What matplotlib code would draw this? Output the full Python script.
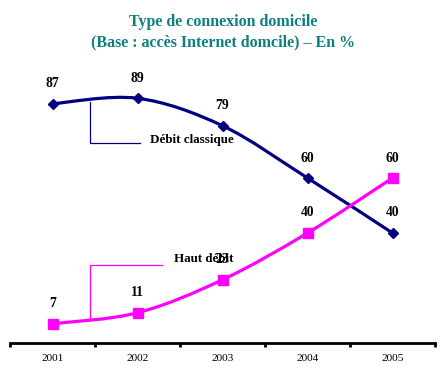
import numpy as np
import matplotlib
matplotlib.use("Agg")
from matplotlib import pyplot as plt
from matplotlib.path import Path
from matplotlib.patches import PathPatch

years = ["2001", "2002", "2003", "2004", "2005"]
debit_classique = [87, 89, 79, 60, 40]
haut_debit = [7, 11, 23, 40, 60]

NAVY = "#000080"
MAGENTA = "#FF00FF"
TEAL = "#0E7F7F"
SERIF = ["Liberation Serif", "DejaVu Serif"]


def smooth_path(xs, ys):
    # Catmull-Rom style Bezier, like a spreadsheet "smoothed line"
    pts = np.column_stack([xs, ys]).astype(float)
    padded = np.vstack([pts[0], pts, pts[-1]])
    verts = [pts[0]]
    codes = [Path.MOVETO]
    for i in range(len(pts) - 1):
        p0, p1, p2, p3 = padded[i], padded[i + 1], padded[i + 2], padded[i + 3]
        verts += [p1 + (p2 - p0) / 6, p2 - (p3 - p1) / 6, p2]
        codes += [Path.CURVE4] * 3
    return Path(verts, codes)


x = np.arange(1, len(years) + 1)

figure = plt.figure(figsize=(4.44, 3.83), dpi=100)
axis = figure.add_axes([10 / 444, 40 / 383, 425 / 444, 275 / 383])
axis.set_xlim(0.5, 5.5)
axis.set_ylim(0, 100)

for values, color, marker, size in [
    (debit_classique, NAVY, "D", 5.5),
    (haut_debit, MAGENTA, "s", 7.5),
]:
    axis.add_patch(PathPatch(smooth_path(x, values), facecolor="none",
                             edgecolor=color, linewidth=2.3, zorder=2))
    axis.plot(x, values, linestyle="none", marker=marker, markersize=size,
              color=color, zorder=3)
    for xi, v in zip(x, values):
        axis.annotate(str(v), (xi, v), xytext=(0, 14.4), textcoords="offset points",
                      ha="center", va="center", fontsize=9.8, fontweight="bold",
                      family=SERIF, zorder=4)

# leader lines for the series names
axis.plot([1.44, 1.44, 2.03], [87.5, 72.7, 72.7], color=NAVY, linewidth=0.9)
axis.text(2.15, 73.8, "Débit classique", ha="left", va="center", fontsize=9.4,
          fontweight="bold", family=SERIF)
axis.plot([1.44, 1.44, 2.29], [8.4, 28.4, 28.4], color=MAGENTA, linewidth=0.9)
axis.text(2.43, 30.5, "Haut débit", ha="left", va="center", fontsize=9.4,
          fontweight="bold", family=SERIF)

for side in ["left", "right", "top"]:
    axis.spines[side].set_visible(False)
axis.spines["bottom"].set_linewidth(2)
axis.set_yticks([])
axis.set_xticks(x)
axis.set_xticklabels(years, family=SERIF, fontsize=8.2)
axis.tick_params(axis="x", which="major", length=0, pad=8)
axis.set_xticks(np.arange(0.5, 6.0, 1.0), minor=True)
axis.tick_params(axis="x", which="minor", length=3, width=2, direction="out")

figure.text(0.502, 1 - 22 / 383, "Type de connexion domicile", ha="center",
            va="center", color=TEAL, fontsize=11.5, fontweight="bold", family=SERIF)
figure.text(0.502, 1 - 42 / 383, "(Base : accès Internet domcile) – En %", ha="center",
            va="center", color=TEAL, fontsize=11.5, fontweight="bold", family=SERIF)

figure.savefig("out.png", dpi=100)
plt.close(figure)
